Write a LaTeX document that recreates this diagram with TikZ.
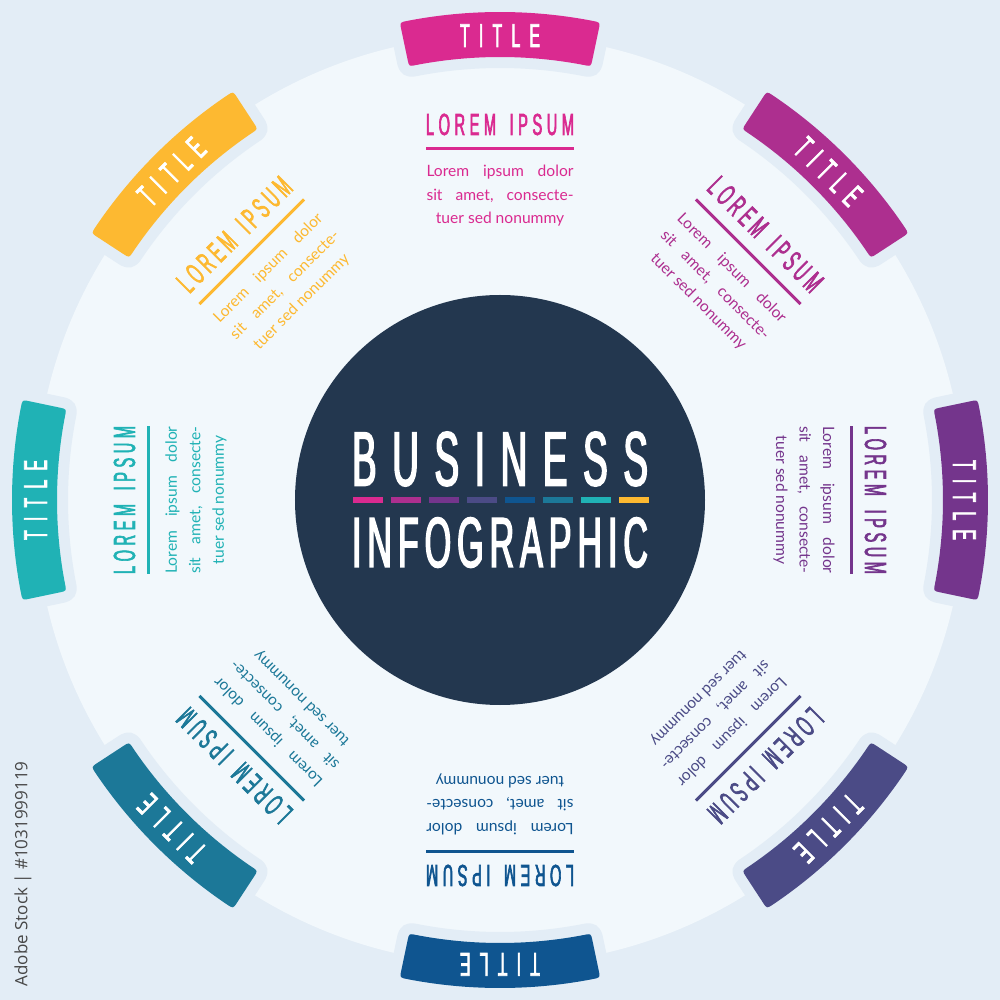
\documentclass[tikz,border=0pt]{standalone}
\usepackage{fontspec}
\setmainfont{Lato}
\newfontfamily\bebas[FakeStretch=0.48,FakeBold=2]{Liberation Sans}
\newfontfamily\sidefont{Open Sans}
\definecolor{bgc}{HTML}{E3EDF6}
\definecolor{discc}{HTML}{F2F8FC}
\definecolor{navy}{HTML}{23374F}
\definecolor{c0}{HTML}{DA2A90}
\definecolor{c1}{HTML}{AD2F8F}
\definecolor{c2}{HTML}{74358C}
\definecolor{c3}{HTML}{4B4B86}
\definecolor{c4}{HTML}{0F5590}
\definecolor{c5}{HTML}{1C7898}
\definecolor{c6}{HTML}{20B2B5}
\definecolor{c7}{HTML}{FDB931}
\newcommand{\sized}[1]{\fontsize{#1}{#1}\selectfont}
\newcommand{\bannerpath}{(79.05:488) arc[start angle=79.05,end angle=100.95,radius=488] .. controls (101.85:488) .. (101.85:481) -- (101.85:450) .. controls (101.85:443) .. (100.95:443) arc[start angle=100.95,end angle=79.05,radius=443] .. controls (78.15:443) .. (78.15:450) -- (78.15:481) .. controls (78.15:488) .. (79.05:488) -- cycle}
\tikzset{
  txt/.style={inner sep=0pt,outer sep=0pt,anchor=base,transform shape},
  halo/.style={fill=bgc,draw=bgc,line width=22pt,line join=round},
  bodytxt/.style={txt,text=#1,font=\sized{15.6}},
}
\begin{document}
\begin{tikzpicture}[x=1pt,y=1pt]
\useasboundingbox (-500,-500) rectangle (500,500);
\fill[bgc] (-500,-500) rectangle (500,500);
\fill[discc] (0,0) circle[radius=465];
\foreach \i in {0,...,7}{
  \begin{scope}[rotate=-45*\i]
    \path[halo] \bannerpath;
  \end{scope}
}
\foreach \i in {0,...,7}{
  \begin{scope}[rotate=-45*\i]
    \fill[c\i] \bannerpath;
    \node[txt,text=white] (title\i) at (0,453) {\bebas\sized{33}\hbox to 80pt{T\hfill I\hfill T\hfill L\hfill E}};
    \node[txt,text=c\i] (head\i) at (0,365) {\bebas\sized{30.5}\hbox to 148pt{L\hfill O\hfill R\hfill E\hfill M\hfill\hfill\hfill I\hfill P\hfill S\hfill U\hfill M}};
    \fill[c\i] (-74,349.5) rectangle (74,352.5);
    \node[bodytxt=c\i] (la\i) at (0,323) {\hbox to 147pt{Lorem\hfill ipsum\hfill dolor}};
    \node[bodytxt=c\i] (lb\i) at (0,299.5) {\hbox to 147pt{sit\hfill amet,\hfill consecte-}};
    \node[bodytxt=c\i] (lc\i) at (0,276) {tuer sed nonummy};
  \end{scope}
}
\fill[navy] (0,0) circle[radius=205];
\node[txt,text=white] (biz) at (0,14.5) {\bebas\sized{77}\hbox to 296pt{B\hfill U\hfill S\hfill I\hfill N\hfill E\hfill S\hfill S}};
\node[txt,text=white] (info) at (0,-67) {\bebas\sized{71}\hbox to 296pt{I\hfill N\hfill F\hfill O\hfill G\hfill R\hfill A\hfill P\hfill H\hfill I\hfill C}};
\foreach \i in {0,...,7}{
  \fill[c\i] ({-147+38*\i},3) rectangle ({-117+38*\i},-3);
}
\node[txt,anchor=center,rotate=90,text=black!72] (side) at (-477,-374) {\sidefont\sized{17}Adobe Stock | \#1031999119};
\end{tikzpicture}
\end{document}
